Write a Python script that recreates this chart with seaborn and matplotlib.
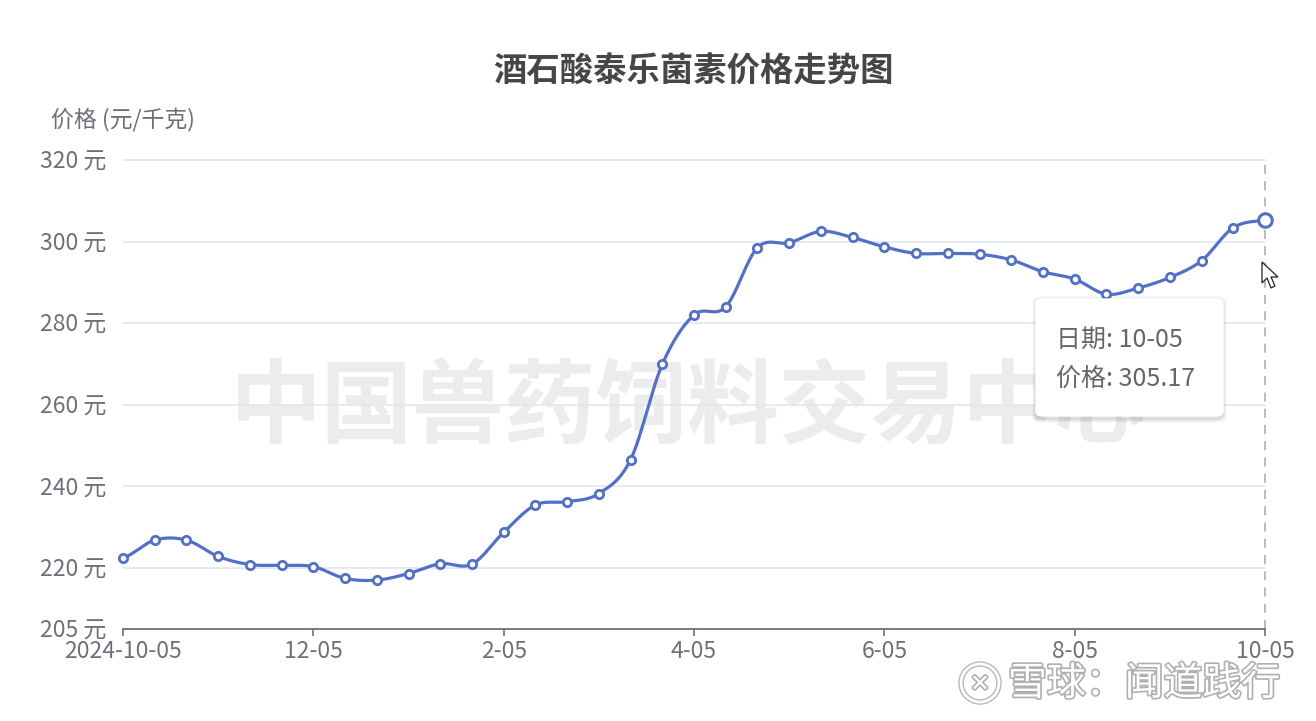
import numpy as np
import pandas as pd
import matplotlib
matplotlib.use("Agg")
import matplotlib.pyplot as plt
import seaborn as sns
from matplotlib import patheffects as pe
from matplotlib.patches import FancyBboxPatch, Polygon, Ellipse

# ---------------- data ----------------
months = [(2024, 10), (2024, 11), (2024, 12), (2025, 1), (2025, 2), (2025, 3), (2025, 4),
          (2025, 5), (2025, 6), (2025, 7), (2025, 8), (2025, 9)]
days = [5, 15, 25]
dates = [f"{y}-{m:02d}-{d:02d}" for (y, m) in months for d in days] + ["2025-10-05"]

prices = [222.45, 226.8, 226.8, 222.8, 220.8, 220.6, 220.3, 217.4, 217.0, 218.6,
          221.0, 220.9, 228.7, 235.4, 236.2, 238.2, 246.5, 269.9, 282.0, 284.0,
          298.5, 299.7, 302.5, 301.0, 298.7, 297.1, 297.1, 296.9, 295.5, 292.6,
          290.8, 287.1, 288.6, 291.2, 295.3, 303.4, 305.17]

xtick_labels = ["2024-10-05", "12-05", "2-05", "4-05", "6-05", "8-05", "10-05"]
ytick_values = [205, 220, 240, 260, 280, 300, 320]
ytick_labels = [f"{v} 元" for v in ytick_values]

title = "酒石酸泰乐菌素价格走势图"
ylabel = "价格 (元/千克)"
watermark = "中国兽药饲料交易中心"
footer = "雪球：闻道践行"
tooltip_lines = ["日期: 10-05", "价格: 305.17"]

# ---------------- style ----------------
sns.set_theme(style="white")
plt.rcParams['font.family'] = ['Noto Sans CJK SC', 'DejaVu Sans']

W, H = 1316, 721
fig = plt.figure(figsize=(W / 100, H / 100), dpi=100)
fig.patch.set_facecolor("white")


def px(x, y):
    return (x / W, 1 - y / H)


ax_l, ax_r, ax_t, ax_b = 123, 1265, 160, 629
ax = fig.add_axes([ax_l / W, 1 - ax_b / H, (ax_r - ax_l) / W, (ax_b - ax_t) / H])
ax.set_facecolor("none")

df = pd.DataFrame({"date": dates, "price": prices})
df["pos"] = np.arange(len(df), dtype=float)

# smooth curve (Catmull-Rom / Hermite through the data points)
y = df["price"].to_numpy()
n = len(y)
m = np.zeros(n)
m[1:-1] = (y[2:] - y[:-2]) / 2.0
m[0] = (y[1] - y[0]) * 0.5
m[-1] = (y[-1] - y[-2]) * 0.5
xs, ys = [], []
for i in range(n - 1):
    t = np.linspace(0, 1, 25, endpoint=(i == n - 2))
    h00 = 2 * t**3 - 3 * t**2 + 1
    h10 = t**3 - 2 * t**2 + t
    h01 = -2 * t**3 + 3 * t**2
    h11 = t**3 - t**2
    xs.append(i + t)
    ys.append(h00 * y[i] + h10 * m[i] + h01 * y[i + 1] + h11 * m[i + 1])
smooth = pd.DataFrame({"pos": np.concatenate(xs), "price": np.concatenate(ys)})

line_color = "#5470c6"
grid_color = "#E0E6F1"
axis_color = "#6E7079"

# watermark behind
ax.text(0.495, 0.47, watermark, transform=ax.transAxes, ha="center", va="center",
        fontsize=66, fontweight="bold", color="#ececec", zorder=0)

for v in ytick_values[1:]:
    ax.axhline(v, color=grid_color, lw=1.2, zorder=1)

ax.axvline(n - 1, color="#b5b5b5", lw=1.3, ls=(0, (5, 4)), zorder=1.5)

sns.lineplot(data=smooth, x="pos", y="price", ax=ax, color=line_color, lw=2.3,
             zorder=3, legend=False)
sns.scatterplot(data=df.iloc[:-1], x="pos", y="price", ax=ax, s=36, color="white",
                edgecolor=line_color, linewidth=2.0, zorder=4, legend=False)
sns.scatterplot(data=df.iloc[-1:], x="pos", y="price", ax=ax, s=95, color="white",
                edgecolor=line_color, linewidth=2.2, zorder=5, legend=False)
for art in list(ax.lines) + list(ax.collections):
    art.set_clip_on(False)

ax.set_xlim(0, n - 1)
ax.set_ylim(205, 320)
ax.set_xticks(np.arange(0, n, 6))
ax.set_xticklabels(xtick_labels)
ax.set_yticks(ytick_values)
ax.set_yticklabels(ytick_labels)
ax.set_xlabel("")
ax.set_ylabel("")
for s in ["left", "right", "top"]:
    ax.spines[s].set_visible(False)
ax.spines["bottom"].set_color(axis_color)
ax.spines["bottom"].set_linewidth(1.3)
ax.spines["bottom"].set_zorder(2)
ax.tick_params(axis="x", direction="out", length=5, width=1.2, color=axis_color,
               labelcolor=axis_color, labelsize=16.5, pad=3, bottom=True)
ax.tick_params(axis="y", length=0, labelcolor=axis_color, labelsize=16.5, pad=12)
ax.grid(False)

# title and axis name
fig.text(*px(693, 72), title, ha="center", va="center", fontsize=24,
         fontweight="bold", color="#464646")
fig.text(*px(51, 120), ylabel, ha="left", va="center", fontsize=16.5, color=axis_color)

# tooltip with soft shadow
bx, by, bw, bh = 1036, 299, 187, 117
for k, a in enumerate([0.025, 0.03, 0.035, 0.045]):
    off = 5 - k
    sh = FancyBboxPatch(px(bx - off + 1, by + bh + off + 2), (bw + 2 * off - 2) / W,
                        (bh + 2 * off) / H, boxstyle="round,pad=0,rounding_size=0.008",
                        transform=fig.transFigure, fc="black", ec="none", alpha=a,
                        zorder=10)
    fig.patches.append(sh)
box = FancyBboxPatch(px(bx, by + bh), bw / W, bh / H,
                     boxstyle="round,pad=0,rounding_size=0.006",
                     transform=fig.transFigure, fc="white", ec="white", lw=1, zorder=11)
fig.patches.append(box)
fig.text(*px(1056, 340), tooltip_lines[0], ha="left", va="center", fontsize=18,
         color="#666666", zorder=12)
fig.text(*px(1056, 379), tooltip_lines[1], ha="left", va="center", fontsize=18,
         color="#666666", zorder=12)

# mouse cursor
cur = [(1262, 262), (1262, 283), (1267, 278), (1271, 288), (1275, 286), (1271, 277),
       (1278, 277)]
fig.patches.append(Polygon([px(a, b) for a, b in cur], closed=True,
                           transform=fig.transFigure, fc="white", ec="#222222",
                           lw=0.9, zorder=13))

# footer watermark (xueqiu)
shadow = [pe.withStroke(linewidth=2.4, foreground="#b0b0b0")]
fig.text(*px(1008, 684), footer, ha="left", va="center", fontsize=28, color="white",
         path_effects=shadow, zorder=14)
logo_c = px(980, 683)
fig.patches.append(Ellipse(logo_c, width=38 / W, height=38 / H, transform=fig.transFigure,
                           fc="none", ec="#b8b8b8", lw=4.0, zorder=14))
fig.patches.append(Ellipse(logo_c, width=38 / W, height=38 / H, transform=fig.transFigure,
                           fc="none", ec="white", lw=2.0, zorder=14))
fig.text(*px(980, 684), "✕", ha="center", va="center", fontsize=17, color="white",
         family=["DejaVu Sans"], path_effects=shadow, zorder=15)

fig.savefig("out.png", dpi=100, facecolor="white")
